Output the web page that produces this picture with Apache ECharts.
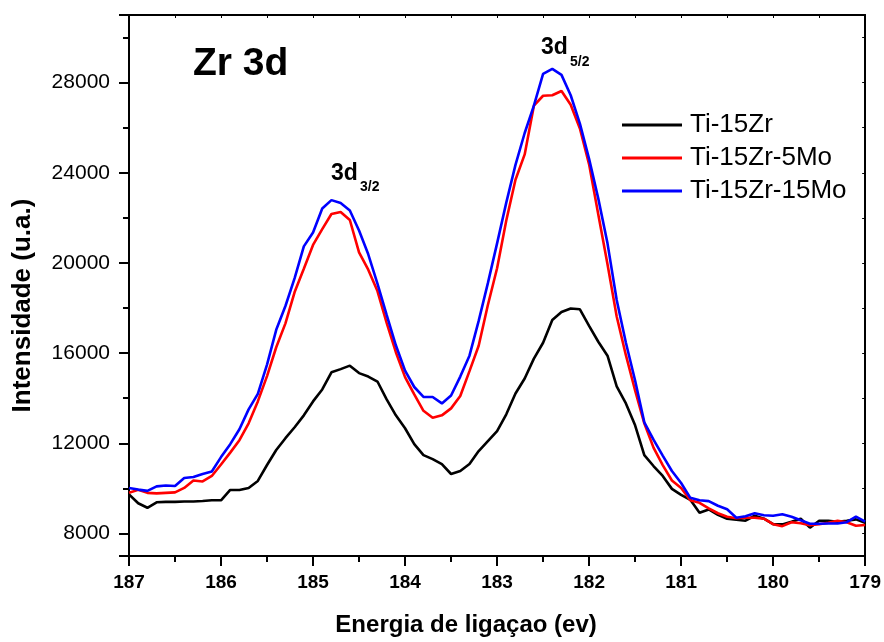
<!DOCTYPE html>
<html>
<head>
<meta charset="utf-8">
<title>Zr 3d XPS</title>
<script src="https://cdn.jsdelivr.net/npm/echarts@6.0.0/dist/echarts.min.js"></script>
<style>
  html, body { margin: 0; padding: 0; background: #fff; }
  #chart { width: 884px; height: 642px; }
</style>
</head>
<body>
<div id="chart"></div>
<script>
// binding energy (eV)
var energy = [
  187.0, 186.9, 186.8, 186.7, 186.6, 186.5, 186.4, 186.3, 186.2, 186.1,
  186.0, 185.9, 185.8, 185.7, 185.6, 185.5, 185.4, 185.3, 185.2, 185.1,
  185.0, 184.9, 184.8, 184.7, 184.6, 184.5, 184.4, 184.3, 184.2, 184.1,
  184.0, 183.9, 183.8, 183.7, 183.6, 183.5, 183.4, 183.3, 183.2, 183.1,
  183.0, 182.9, 182.8, 182.7, 182.6, 182.5, 182.4, 182.3, 182.2, 182.1,
  182.0, 181.9, 181.8, 181.7, 181.6, 181.5, 181.4, 181.3, 181.2, 181.1,
  181.0, 180.9, 180.8, 180.7, 180.6, 180.5, 180.4, 180.3, 180.2, 180.1,
  180.0, 179.9, 179.8, 179.7, 179.6, 179.5, 179.4, 179.3, 179.2, 179.1,
  179.0
];

var ti15Zr = [
  9736, 9340, 9140, 9383, 9400, 9400, 9420, 9420, 9440, 9470,
  9470, 9930, 9930, 10020, 10330, 11036, 11700, 12226, 12711, 13240,
  13858, 14387, 15150, 15290, 15445, 15114, 14960, 14740, 13946, 13240,
  12667, 11962, 11476, 11300, 11080, 10638, 10770, 11080, 11653, 12094,
  12535, 13285, 14210, 14872, 15754, 16460, 17474, 17827, 17980, 17945,
  17210, 16504, 15886, 14520, 13770, 12800, 11476, 10991, 10550, 9978,
  9714, 9493, 8920, 9065, 8830, 8654, 8610, 8566, 8786, 8654,
  8412, 8402, 8522, 8654, 8257, 8566, 8566, 8522, 8566, 8624,
  8478
];

var ti15Zr5Mo = [
  9802, 9934, 9802, 9780, 9802, 9824, 10020, 10350, 10308, 10550,
  11057, 11586, 12137, 12887, 13858, 14982, 16261, 17320, 18710, 19745,
  20800, 21500, 22170, 22258, 21905, 20472, 19700, 18752, 17340, 16040,
  14937, 14166, 13440, 13130, 13240, 13550, 14100, 15200, 16327, 18135,
  19767, 21884, 23692, 24816, 26977, 27418, 27440, 27630, 27021, 25963,
  24375, 22148, 19943, 17628, 15908, 14343, 12887, 11807, 11035, 10350,
  10020, 9470, 9360, 9117, 8896, 8744, 8678, 8700, 8700, 8654,
  8412, 8323, 8500, 8456, 8368, 8412, 8478, 8566, 8500, 8345,
  8376
];

var ti15Zr15Mo = [
  10020, 9946, 9888, 10087, 10130, 10108, 10460, 10506, 10638, 10750,
  11388, 11962, 12623, 13505, 14190, 15490, 17033, 18090, 19326, 20737,
  21355, 22413, 22788, 22655, 22325, 21443, 20385, 19084, 17694, 16349,
  15225, 14497, 14056, 14056, 13770, 14122, 14960, 15886, 17430, 19105,
  20870, 22678, 24353, 25765, 26977, 28388, 28609, 28344, 27440, 26184,
  24618, 22854, 20870, 18356, 16460, 14784, 12931, 12160, 11454, 10770,
  10241, 9580, 9470, 9435, 9228, 9073, 8700, 8766, 8898, 8810,
  8787, 8853, 8744, 8588, 8434, 8434, 8445, 8445, 8500, 8744,
  8522
];

var seriesNames = ['Ti-15Zr', 'Ti-15Zr-5Mo', 'Ti-15Zr-15Mo'];
var seriesColors = ['#000000', '#ff0000', '#0000ff'];
var seriesValues = [ti15Zr, ti15Zr5Mo, ti15Zr15Mo];

var FONT = 'Arial, "Liberation Sans", sans-serif';

function pairs(values) {
  return values.map(function (v, i) { return [energy[i], v]; });
}

var chart = echarts.init(document.getElementById('chart'), null, { renderer: 'canvas' });

var frameLine = { show: true, lineStyle: { color: '#000', width: 2 } };

var option = {
  backgroundColor: '#fff',
  animation: false,
  textStyle: { fontFamily: FONT },
  grid: { left: 129, right: 17, top: 15, bottom: 84, containLabel: false },
  legend: {
    orient: 'vertical',
    left: 617,
    top: 107,
    icon: 'rect',
    itemWidth: 60,
    itemHeight: 3,
    itemGap: 7,
    data: seriesNames,
    textStyle: { fontSize: 26, color: '#000', fontFamily: FONT, padding: [0, 0, 0, 3] }
  },
  xAxis: [
    {
      type: 'value',
      min: 179,
      max: 187,
      interval: 1,
      inverse: true,
      position: 'bottom',
      name: 'Energia de ligaçao (ev)',
      nameLocation: 'middle',
      nameGap: 57,
      nameTextStyle: { fontSize: 24, fontWeight: 'bold', color: '#000', padding: [0, 62, 0, 0] },
      axisLine: frameLine,
      axisTick: { show: true, inside: false, length: 10, lineStyle: { color: '#000', width: 2 } },
      minorTick: { show: true, splitNumber: 2, length: 6, lineStyle: { color: '#000', width: 2 } },
      axisLabel: { fontSize: 19, fontWeight: 'bold', color: '#000', margin: 17 },
      splitLine: { show: false }
    },
    {
      type: 'value',
      min: 179,
      max: 187,
      interval: 0.5,
      inverse: true,
      position: 'top',
      axisLine: frameLine,
      axisTick: { show: true, inside: true, length: 3, lineStyle: { color: '#000', width: 1 } },
      axisLabel: { show: false },
      splitLine: { show: false }
    }
  ],
  yAxis: [
    {
      type: 'value',
      min: 7000,
      max: 31000,
      minInterval: 4000,
      maxInterval: 4000,
      position: 'left',
      name: 'Intensidade (u.a.)',
      nameLocation: 'middle',
      nameGap: 93,
      nameTextStyle: { fontSize: 26, fontWeight: 'bold', color: '#000', padding: [0, 40, 0, 0] },
      axisLine: frameLine,
      axisTick: { show: true, inside: false, length: 10, lineStyle: { color: '#000', width: 2 } },
      axisLabel: {
        fontSize: 21,
        color: '#000',
        margin: 19,
        formatter: function (v) { return v % 4000 === 0 ? String(v) : ''; }
      },
      splitLine: { show: false }
    },
    {
      // minor ticks every 2000 on the left
      type: 'value',
      min: 7000,
      max: 31000,
      minInterval: 2000,
      maxInterval: 2000,
      position: 'left',
      axisLine: { show: false },
      axisTick: { show: true, inside: false, length: 6, lineStyle: { color: '#000', width: 2 } },
      axisLabel: { show: false },
      splitLine: { show: false }
    },
    {
      type: 'value',
      min: 7000,
      max: 31000,
      minInterval: 2000,
      maxInterval: 2000,
      position: 'right',
      axisLine: frameLine,
      axisTick: { show: true, inside: true, length: 3, lineStyle: { color: '#000', width: 1 } },
      axisLabel: { show: false },
      splitLine: { show: false }
    }
  ],
  series: seriesNames.map(function (name, i) {
    return {
      name: name,
      type: 'line',
      xAxisIndex: 0,
      yAxisIndex: 0,
      symbol: 'none',
      smooth: false,
      data: pairs(seriesValues[i]),
      itemStyle: { color: seriesColors[i] },
      lineStyle: { color: seriesColors[i], width: 2.6 },
      z: 3 + i
    };
  }),
  graphic: [
    {
      type: 'text', left: 193, top: 45,
      style: { text: 'Zr 3d', font: 'bold 39px ' + FONT, fill: '#000' }
    },
    {
      type: 'text', left: 331, top: 162,
      style: { text: '3d', font: 'bold 23px ' + FONT, fill: '#000' }
    },
    {
      type: 'text', left: 360, top: 180,
      style: { text: '3/2', font: 'bold 14px ' + FONT, fill: '#000' }
    },
    {
      type: 'text', left: 541, top: 36,
      style: { text: '3d', font: 'bold 23px ' + FONT, fill: '#000' }
    },
    {
      type: 'text', left: 570, top: 55,
      style: { text: '5/2', font: 'bold 14px ' + FONT, fill: '#000' }
    }
  ]
};

chart.setOption(option);
window.addEventListener('resize', function () { chart.resize(); });
</script>
</body>
</html>
